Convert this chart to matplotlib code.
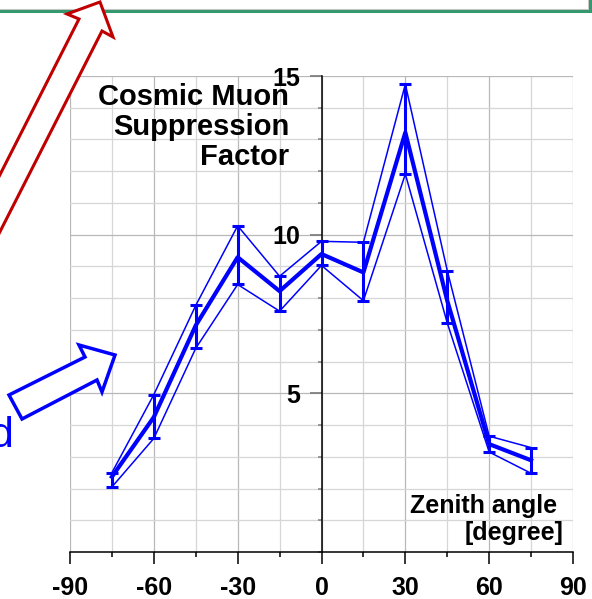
import matplotlib
matplotlib.use("Agg")
import matplotlib.pyplot as plt
from matplotlib.patches import Polygon, Rectangle
from matplotlib.ticker import FixedLocator, MultipleLocator

# zenith angle bins [deg] and muon suppression factor (mean, upper, lower)
angle = [-75, -60, -45, -30, -15, 0, 15, 30, 45, 60, 75]
factor = [2.37, 4.25, 7.14, 9.29, 8.22, 9.39, 8.81, 13.22, 7.92, 3.40, 2.89]
factor_hi = [2.50, 4.96, 7.77, 10.28, 8.69, 9.79, 9.76, 14.74, 8.87, 3.65, 3.29]
factor_lo = [2.05, 3.58, 6.42, 8.43, 7.59, 9.03, 7.92, 11.91, 7.22, 3.15, 2.48]

x_ticks = [-90, -60, -30, 0, 30, 60, 90]
y_ticks = [5, 10, 15]

BLUE = "#0000ff"
RED = "#c00000"
GREEN = "#35996d"

plt.rcParams["font.family"] = ["Liberation Sans", "DejaVu Sans"]

W, H = 592, 599
fig = plt.figure(figsize=(W / 100, H / 100), dpi=100)
ax = fig.add_axes([70 / W, 47 / H, 503 / W, 476 / H])

ax.set_xlim(-90, 90)
ax.set_ylim(0, 15)
ax.set_axisbelow(True)

# axes: x along the bottom, y through zero
ax.spines["top"].set_visible(False)
ax.spines["right"].set_visible(False)
ax.spines["left"].set_position(("data", 0))
ax.spines["left"].set_linewidth(1.1)
ax.spines["bottom"].set_linewidth(1.1)

ax.xaxis.set_major_locator(FixedLocator(x_ticks))
ax.xaxis.set_minor_locator(MultipleLocator(15))
ax.set_xticklabels([str(t) for t in x_ticks], fontweight="bold")
ax.yaxis.set_major_locator(FixedLocator(y_ticks))
ax.yaxis.set_minor_locator(MultipleLocator(1))
ax.set_yticklabels([str(t) for t in y_ticks], fontweight="bold")

ax.tick_params(axis="x", which="major", direction="out", length=8.6, width=1.1,
               pad=9, labelsize=18)
ax.tick_params(axis="x", which="minor", direction="out", length=3.5, width=1.1)
ax.tick_params(axis="y", which="major", direction="out", length=8.6, width=1.3,
               color="#808080", pad=6.5, labelsize=18)
ax.tick_params(axis="y", which="minor", direction="out", length=3, width=1.1,
               color="#808080")

ax.grid(which="major", color="#b8b8b8", lw=0.9)
ax.grid(which="minor", color="#d6d6d6", lw=0.9)

# band edges, mean curve and error bars
ax.plot(angle, factor_hi, color=BLUE, lw=1.1, zorder=3)
ax.plot(angle, factor_lo, color=BLUE, lw=1.1, zorder=3)
ax.plot(angle, factor, color=BLUE, lw=3.0, zorder=4)
err_lo = [f - lo for f, lo in zip(factor, factor_lo)]
err_hi = [hi - f for f, hi in zip(factor, factor_hi)]
ax.errorbar(angle, factor, yerr=[err_lo, err_hi], fmt="none", ecolor=BLUE,
            elinewidth=2.2, capsize=4.5, capthick=2.2, zorder=4)

# overlay in pixel units for labels and callouts
ov = fig.add_axes([0, 0, 1, 1])
ov.set_xlim(0, W)
ov.set_ylim(H, 0)
ov.axis("off")
ov.patch.set_visible(False)

for txt, yb in [("Cosmic Muon", 105), ("Suppression", 135), ("Factor", 165)]:
    ov.text(289, yb, txt, ha="right", va="baseline", fontsize=21,
            fontweight="bold")
ov.text(557, 513, "Zenith angle", ha="right", va="baseline", fontsize=18,
        fontweight="bold")
ov.text(563, 540, "[degree]", ha="right", va="baseline", fontsize=18,
        fontweight="bold")

# green frame of the box above
ov.add_patch(Rectangle((-20, -30), 610.5, 41.3, fill=False, edgecolor=GREEN,
                       lw=2.9, zorder=2))
ov.plot([-5, 588], [8.6, 8.6], color="#c8c8c8", lw=0.7, zorder=2)
ov.plot([588, 588], [-5, 8.6], color="#c8c8c8", lw=0.7, zorder=2)

# red hollow arrow
red_arrow = [(-20, 214), (79, 19), (67, 14), (100, 2), (113, 37), (102, 31),
             (-20, 271)]
ov.add_patch(Polygon(red_arrow, closed=True, facecolor="white", edgecolor=RED,
                     lw=2.2, joinstyle="miter", zorder=5))

# blue hollow arrow
blue_arrow = [(22, 419), (9, 395), (85, 357), (79, 345), (115, 355),
              (102, 392), (97, 380)]
ov.add_patch(Polygon(blue_arrow, closed=True, facecolor="white",
                     edgecolor=BLUE, lw=2.5, joinstyle="miter", zorder=5))
ov.text(13, 447, "d", ha="right", va="baseline", fontsize=31, color=BLUE)

fig.savefig("out.png", dpi=100)
